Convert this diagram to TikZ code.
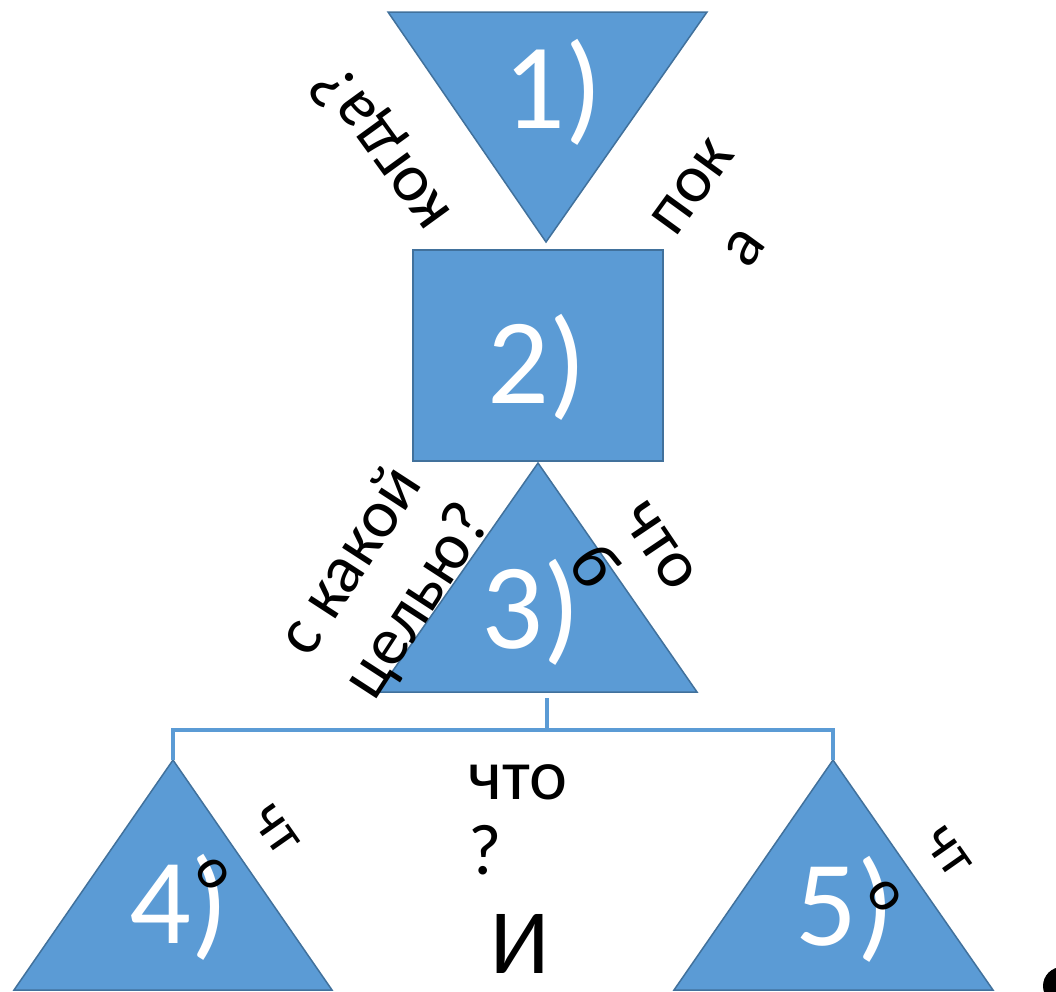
\documentclass[tikz,border=0pt]{standalone}
\usepackage{fontspec}
\setmainfont{Carlito}
\definecolor{boxblue}{HTML}{5B9BD5}
\definecolor{edgeblue}{HTML}{41719C}

\begin{document}
\begin{tikzpicture}
  [x=1pt, y=-1pt,
   piece/.style={fill=boxblue, draw=edgeblue, line width=1.5pt},
   bar/.style={draw=boxblue, line width=3.5pt},
   num/.style={text=white, anchor=base, font=\fontsize{122}{122}\selectfont},
   word/.style={font=\fontsize{68}{78}\selectfont, align=center},
   small word/.style={font=\fontsize{58}{76}\selectfont, align=center}]
  \useasboundingbox (0, 0) rectangle (1056, 991);
  % shapes
  \draw[piece] (388, 12) -- (707, 12) -- (546, 242) -- cycle;
  \draw[piece] (413, 250) rectangle (663, 461);
  \draw[piece] (538, 463) coordinate (top3) -- (697, 692) -- (378, 692) -- cycle;
  \draw[piece] (173, 760) coordinate (top4) -- (332, 990) -- (14, 990) -- cycle;
  \draw[piece] (833, 760) coordinate (top5) -- (993, 990) -- (674, 990) -- cycle;
  % bracket under 3)
  \coordinate (foot3) at (547, 698);
  \coordinate (fork) at (547, 730);
  \draw[bar] (foot3) -- (fork);
  \draw[bar] (top4) -- (top4 |- fork) -- (top5 |- fork) -- (top5);
  % numbers
  \node[num] (one) at (553, 128) {1)};
  \node[num] (two) at (537, 403) {2)};
  \node[num] (three) at (531, 648) {3)};
  \node[num] (four) at (179, 943) {4)};
  \node[num] (five) at (845, 945) {5)};
  % questions
  \node[word, rotate=126] (when) at (383, 148) {когда?};
  \node[word, rotate=54] (until) at (724, 210) {пок\\а\hspace*{36pt}};
  \node[word, rotate=-56, font=\fontsize{68}{70}\selectfont] (what3) at (630, 566) {что\\б\hspace*{40pt}};
  \node[word, rotate=57, align=left] (aim) at (386, 581) {с какой\\целью?};
  \node[small word, rotate=-55] (what4) at (244, 852) {чт\\о};
  \node[small word, rotate=-55] (what5) at (916, 874) {чт\\о};
  \node[word, align=left, font=\fontsize{72}{75}\selectfont] (what) at (518, 820) {что\\?};
  \node[font=\fontsize{92}{92}\selectfont, anchor=base, inner sep=0pt] (and) at (520, 973) {И};
  \fill (1062, 986) circle (19);
\end{tikzpicture}
\end{document}
